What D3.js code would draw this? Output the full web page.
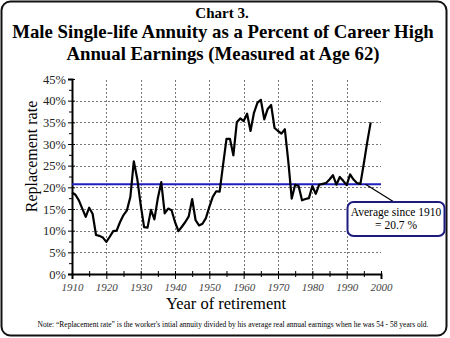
<!DOCTYPE html>
<html>
<head>
<meta charset="utf-8">
<script src="https://cdn.jsdelivr.net/npm/d3@7"></script>
<style>
  body { margin: 0; background: #fff; }
  svg { display: block; font-family: "Liberation Serif", "Times New Roman", serif; }
</style>
</head>
<body>
<div id="chart"></div>
<script>
// replacement rate by year of retirement (%)
const years = d3.range(1910, 1998);
const rates = [
  18.8, 18.3, 17.0, 15.1, 13.2, 15.3, 13.9, 9.0, 8.8, 8.4,
  7.4, 8.6, 9.9, 10.0, 12.0, 13.6, 14.7, 17.8, 26.0, 22.0,
  16.0, 10.8, 10.7, 14.8, 12.6, 17.5, 21.2, 14.0, 15.1, 14.7,
  12.0, 9.9, 10.9, 12.0, 13.3, 17.3, 12.4, 11.2, 11.6, 12.9,
  15.5, 17.8, 19.1, 19.0, 25.2, 31.2, 31.2, 27.4, 35.0, 35.9,
  35.3, 37.0, 33.0, 37.2, 39.5, 40.2, 35.7, 38.1, 39.0, 33.7,
  33.0, 32.4, 33.4, 26.0, 17.4, 20.6, 20.3, 17.0, 17.3, 17.5,
  20.3, 18.5, 20.6, 20.8, 21.0, 21.8, 22.8, 20.6, 22.4, 21.5,
  20.5, 23.0, 21.8, 21.0, 20.8, 25.5, 30.5, 35.0
];
const average = 20.7;
const yTicks = [0, 5, 10, 15, 20, 25, 30, 35, 40, 45];
const xTicks = [1910, 1920, 1930, 1940, 1950, 1960, 1970, 1980, 1990, 2000];

const W = 450, H = 338;
const svg = d3.select("#chart").append("svg")
  .attr("width", W).attr("height", H);

// outer frame
svg.append("rect")
  .attr("x", 1.5).attr("y", 1.5)
  .attr("width", 445).attr("height", 334)
  .attr("rx", 9)
  .attr("fill", "#fff").attr("stroke", "#111").attr("stroke-width", 2);

// titles
svg.append("text").attr("x", 222).attr("y", 18)
  .attr("text-anchor", "middle").attr("font-weight", "bold").attr("font-size", 15)
  .text("Chart 3.");
svg.append("text").attr("x", 223).attr("y", 38)
  .attr("text-anchor", "middle").attr("font-weight", "bold").attr("font-size", 18.8)
  .text("Male Single-life Annuity as a Percent of Career High");
svg.append("text").attr("x", 223).attr("y", 60)
  .attr("text-anchor", "middle").attr("font-weight", "bold").attr("font-size", 18.8)
  .text("Annual Earnings (Measured at Age 62)");

const x = d3.scaleLinear().domain([1910, 2000]).range([72, 381]);
const y = d3.scaleLinear().domain([0, 45]).range([274, 79]);

// grid
const grid = svg.append("g").attr("stroke", "#777").attr("stroke-dasharray", "2,2").attr("stroke-width", 1);
grid.selectAll("line.h").data(yTicks.filter(d => d > 0 && d < 45)).enter().append("line")
  .attr("x1", x(1910)).attr("x2", x(2000))
  .attr("y1", d => Math.round(y(d)) + 0.5).attr("y2", d => Math.round(y(d)) + 0.5);
grid.selectAll("line.v").data(xTicks.filter(d => d > 1910 && d < 2000)).enter().append("line")
  .attr("x1", d => Math.round(x(d)) + 0.5).attr("x2", d => Math.round(x(d)) + 0.5)
  .attr("y1", y(0)).attr("y2", y(45));

// y axis
const yAxis = svg.append("g")
  .attr("transform", `translate(${x(1910)},0)`)
  .call(d3.axisLeft(y).tickValues(yTicks).tickFormat(d => d + "%").tickSize(4).tickPadding(2));
yAxis.select(".domain").attr("stroke", "#000").attr("stroke-width", 2);
yAxis.selectAll(".tick line").attr("stroke", "#000").attr("x2", -4).attr("x1", 3);
yAxis.selectAll(".tick text").attr("font-size", 12.5).attr("fill", "#222")
  .attr("font-family", "Liberation Serif, serif");
svg.append("g").attr("transform", `translate(${x(1910)},0)`)
  .call(d3.axisLeft(y).tickValues(d3.range(2.5, 45, 5)).tickFormat("").tickSize(3))
  .call(g => g.select(".domain").remove());

// x axis
const xAxis = svg.append("g")
  .attr("transform", `translate(0,${y(0)})`)
  .call(d3.axisBottom(x).tickValues(xTicks).tickFormat(d3.format("d")).tickSize(5).tickPadding(4));
xAxis.select(".domain").attr("stroke", "#000").attr("stroke-width", 2);
xAxis.selectAll(".tick line").attr("y1", -3);
xAxis.selectAll(".tick text").attr("font-size", 11).attr("font-style", "italic")
  .attr("fill", "#444").attr("font-family", "Liberation Serif, serif");
svg.append("g").attr("transform", `translate(0,${y(0)})`)
  .call(d3.axisBottom(x).tickValues(d3.range(1915, 2000, 10)).tickFormat("").tickSize(3))
  .call(g => g.select(".domain").remove())
  .selectAll(".tick line").attr("y1", -3);

// axis titles
svg.append("text")
  .attr("transform", `translate(37,${(y(0) + y(45)) / 2 - 20}) rotate(-90)`)
  .attr("text-anchor", "middle").attr("font-size", 16)
  .text("Replacement rate");
svg.append("text").attr("x", 226).attr("y", 309)
  .attr("text-anchor", "middle").attr("font-size", 16.5)
  .text("Year of retirement");

// average line
svg.append("line")
  .attr("x1", x(1910)).attr("x2", x(2000))
  .attr("y1", y(average)).attr("y2", y(average))
  .attr("stroke", "#1f1fc0").attr("stroke-width", 2);

// data line
const line = d3.line().x((d, i) => x(years[i])).y(d => y(d));
svg.append("path").datum(rates)
  .attr("fill", "none").attr("stroke", "#000").attr("stroke-width", 2.2)
  .attr("stroke-linejoin", "round")
  .attr("d", line);

// callout
svg.append("line")
  .attr("x1", x(1995.5)).attr("y1", y(average))
  .attr("x2", 394).attr("y2", 202)
  .attr("stroke", "#000").attr("stroke-width", 1.2);
svg.append("rect")
  .attr("x", 347.5).attr("y", 202).attr("width", 97).attr("height", 34).attr("rx", 6)
  .attr("fill", "#fff").attr("stroke", "#1c1c80").attr("stroke-width", 2);
svg.append("text").attr("x", 396).attr("y", 215.5)
  .attr("text-anchor", "middle").attr("font-size", 11.5).text("Average since 1910");
svg.append("text").attr("x", 396).attr("y", 228.5)
  .attr("text-anchor", "middle").attr("font-size", 11.5).text("= 20.7 %");

// note
svg.append("text").attr("x", 233).attr("y", 326.5)
  .attr("text-anchor", "middle").attr("font-size", 7.5)
  .text("Note:  \u201CReplacement rate\u201D is the worker's intial annuity divided by his average real annual earnings when he was 54 - 58 years old.");
</script>
</body>
</html>
